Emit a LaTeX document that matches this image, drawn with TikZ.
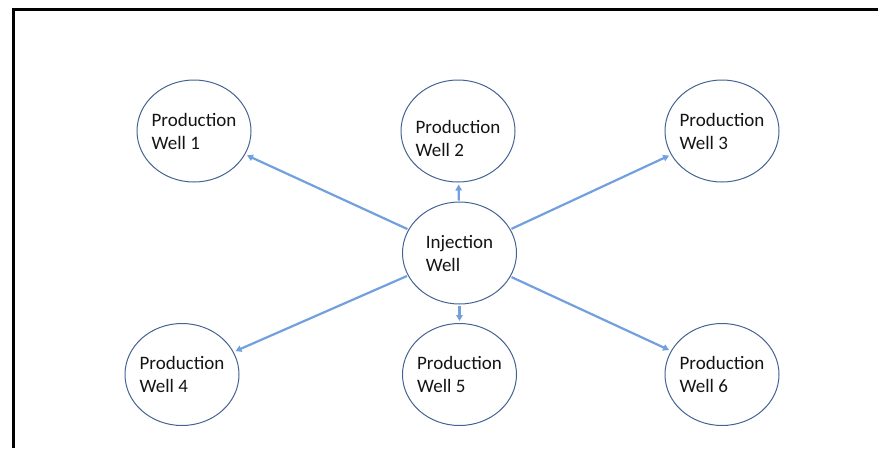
\documentclass[tikz,border=0pt]{standalone}
\usepackage{fontspec}
\setmainfont{Carlito}
\usetikzlibrary{shapes.geometric,arrows.meta}
\definecolor{wellborder}{RGB}{68,98,146}
\definecolor{arrowblue}{RGB}{114,160,222}
\definecolor{wtext}{RGB}{20,20,20}
\tikzset{
  wellfont/.style={align=left, text=wtext, font=\fontsize{19pt}{23pt}\selectfont},
  well/.style={draw=wellborder, line width=1pt, ellipse, minimum width=114pt, minimum height=102pt,
    inner xsep=-5pt, inner ysep=0pt, wellfont},
  welltext/.style={inner sep=0pt, wellfont},
  flow/.style={draw=arrowblue, line width=2.2pt, -{Triangle[length=6pt,width=6.5pt]}, shorten >=2pt, shorten <=1pt}
}
\begin{document}
\begin{tikzpicture}[x=1pt,y=-1pt]
\useasboundingbox (0,0) rectangle (878,448);
\draw[line width=3pt, black] (13,448) -- (13,9) -- (878,9);
\node[well] (inj) at (459.5,253) {Injection\\Well};
\node[well] (p1) at (194,131) {Production\\Well 1};
\node[well] (p2) at (458,131) {};
\node[welltext] (p2t) at (458,138) {Production\\Well 2};
\node[well] (p3) at (722,131) {Production\\Well 3};
\node[well] (p4) at (182,374.5) {Production\\Well 4};
\node[well] (p5) at (459.5,374.5) {Production\\Well 5};
\node[well] (p6) at (722,374.5) {Production\\Well 6};
\draw[flow] (inj) -- (p1);
\draw[flow] (inj) -- (p2);
\draw[flow] (inj) -- (p3);
\draw[flow] (inj) -- (p4);
\draw[flow] (inj) -- (p5);
\draw[flow] (inj) -- (p6);
\end{tikzpicture}
\end{document}
